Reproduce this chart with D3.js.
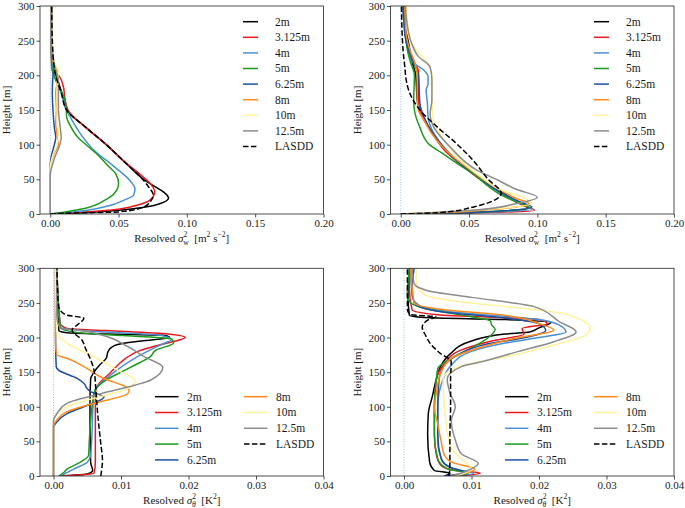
<!DOCTYPE html>
<html><head><meta charset="utf-8">
<script src="https://cdn.jsdelivr.net/npm/d3@7"></script>
<style>
body{margin:0;background:#fff}
</style>
</head><body>
<svg id="c" width="685" height="508"></svg>
<script>
// ---------------- data ----------------
const seriesNames = ["2m","3.125m","4m","5m","6.25m","8m","10m","12.5m","LASDD"];
const seriesColors = ["#000000","#e8191c","#4a8fd2","#1c9a1c","#1f4f9e","#ff8a1a","#fff29a","#8c8c8c","#000000"];
const heightTicks = [0,50,100,150,200,250,300];
const wTicks = [0.00,0.05,0.10,0.15,0.20];
const thetaTicks = [0.00,0.01,0.02,0.03,0.04];

// top-left: resolved w variance, [value, height]
const wA_2m = [[0,0],[0.037,3.4],[0.062,8],[0.079,14],[0.0866,23],[0.084,30],[0.077,39],[0.069,49],[0.055,74],[0.041,100],[0.026,125],[0.012,150],[0.0085,175],[0.0045,198],[0.0015,212],[0.0008,236],[0.001,300]];
const wA_3125 = [[0,0],[0.045,5.8],[0.064,13],[0.073,20],[0.0765,32],[0.074,42],[0.067,55],[0.054,76],[0.041,100],[0.026,125],[0.013,150],[0.0105,170],[0.0099,181],[0.0062,200],[0.0025,208],[0.001,215],[0.001,300]];
const wA_4 = [[0,0],[0.025,4.8],[0.045,13],[0.054,20],[0.061,27],[0.062,36],[0.058,49],[0.047,68],[0.032,92],[0.022,116],[0.016,135],[0.012,150],[0.008,175],[0.004,198],[0.0015,212],[0.001,300]];
const wA_5 = [[0,0],[0.012,3.4],[0.025,8],[0.04,20],[0.047,30],[0.050,44],[0.048,58],[0.043,68],[0.036,83],[0.028,97],[0.020,111],[0.015,126],[0.012,140],[0.0116,155],[0.010,169],[0.006,184],[0.003,198],[0.001,212],[0.001,300]];
const wA_625 = [[0,0],[0,70],[0.001,85],[0.003,100],[0.004,110],[0.003,125],[0.002,150],[0.0015,175],[0.002,200],[0.003,212],[0.002,228],[0.001,260],[0.001,300]];
const wA_8 = [[0,0],[0,65],[0.003,88],[0.006,100],[0.005,115],[0.004,130],[0.0045,150],[0.004,175],[0.006,200],[0.002,220],[0.001,300]];
const wA_10 = [[0,0],[0,65],[0.002,85],[0.005,100],[0.006,115],[0.005,135],[0.005,160],[0.005,190],[0.006,205],[0.002,225],[0.001,300]];
const wA_125 = [[0,0],[0,55],[0.003,80],[0.007,100],[0.008,110],[0.007,130],[0.006,150],[0.006,190],[0.003,215],[0.001,240],[0.001,300]];
const wA_lasdd = [[0,0],[0.01,1],[0.05,3],[0.069,10.6],[0.074,20],[0.0755,27],[0.072,39],[0.068,49],[0.055,74],[0.041,100],[0.026,125],[0.012,150],[0.008,175],[0.004,200],[0.002,230],[0.001,300]];

// top-right: resolved w variance
const wB_2m = [[0,0],[0.05,2],[0.093,8],[0.083,20],[0.069,39],[0.056,54],[0.045,70],[0.031,95],[0.022,120],[0.015,145],[0.012,165],[0.011,200],[0.008,222],[0.0054,250],[0.003,270],[0.0015,300]];
const wB_3125 = [[0,0],[0.06,2],[0.098,5],[0.09,12],[0.08,22],[0.07,35],[0.058,50],[0.045,70],[0.032,92],[0.024,115],[0.016,140],[0.013,160],[0.013,190],[0.013,205],[0.009,222],[0.005,240],[0.003,270],[0.002,300]];
const wB_4 = [[0,0],[0.06,2.5],[0.096,7],[0.088,15],[0.078,25],[0.066,40],[0.056,55],[0.042,75],[0.030,100],[0.022,125],[0.020,140],[0.0195,160],[0.0186,179],[0.020,188],[0.020,198],[0.0166,208],[0.008,220],[0.0054,236],[0.003,260],[0.0017,300]];
const wB_5 = [[0,0],[0.06,3],[0.094,9],[0.085,17],[0.074,27],[0.064,40],[0.055,55],[0.042,72],[0.030,88],[0.021,100],[0.014,125],[0.010,150],[0.0095,165],[0.010,200],[0.007,220],[0.005,235],[0.004,250],[0.002,300]];
const wB_625 = [[0,0],[0.06,3],[0.096,10],[0.088,17],[0.077,27],[0.066,40],[0.057,55],[0.044,72],[0.032,95],[0.024,115],[0.017,140],[0.014,160],[0.013,200],[0.009,220],[0.006,235],[0.003,260],[0.002,300]];
const wB_8 = [[0,0],[0.05,4],[0.094,15],[0.085,22],[0.075,32],[0.064,45],[0.055,58],[0.043,75],[0.030,98],[0.023,115],[0.017,135],[0.013,150],[0.012,170],[0.012,200],[0.010,220],[0.007,235],[0.004,260],[0.003,300]];
const wB_10 = [[0,0],[0.05,5],[0.096,15],[0.088,25],[0.073,35],[0.061,50],[0.045,75],[0.034,100],[0.026,125],[0.023,150],[0.023,170],[0.023,200],[0.0166,225],[0.010,240],[0.006,260],[0.004,300]];
const wB_125 = [[0,0],[0.05,5],[0.085,15],[0.100,24],[0.084,36],[0.071,49],[0.056,63],[0.036,97],[0.024,126],[0.0215,145],[0.0228,164],[0.0228,193],[0.0215,212],[0.013,227],[0.008,246],[0.004,284],[0.0035,300]];
const wB_lasdd = [[0,0],[0.029,2],[0.054,10.6],[0.0686,20],[0.0735,30],[0.064,50],[0.054,75],[0.040,103],[0.027,125],[0.014,150],[0.0067,174],[0.004,193],[0.003,212],[0.0017,236],[0.0005,300]];

// bottom-left: resolved theta variance
const tA_2m = [[0.001,0],[0.005,3],[0.0058,8],[0.0055,20],[0.0054,100],[0.0055,140],[0.006,150],[0.0068,160],[0.0078,170],[0.0081,180],[0.0085,185],[0.0095,190],[0.013,195],[0.0172,200],[0.0165,203],[0.008,205],[0.002,207],[0.0008,210],[0.0005,300]];
const tA_3125 = [[0.001,0],[0.006,4],[0.0062,20],[0.0062,120],[0.0065,130],[0.0085,150],[0.0095,160],[0.0107,170],[0.0125,180],[0.016,190],[0.0185,196],[0.0195,200],[0.017,205],[0.008,210],[0.002,213],[0.001,220],[0.0005,300]];
const tA_4 = [[0.001,0],[0.003,10],[0.005,20],[0.0055,30],[0.006,120],[0.009,150],[0.012,170],[0.016,190],[0.0175,197],[0.016,203],[0.004,210],[0.001,215],[0.0005,300]];
const tA_5 = [[0.0008,0],[0.0015,5],[0.002,10],[0.004,20],[0.0052,30],[0.0053,50],[0.006,120],[0.008,140],[0.010,150],[0.012,160],[0.0143,172],[0.0152,182],[0.0178,192],[0.0175,198],[0.012,202],[0.006,205],[0.002,210],[0.001,215],[0.0005,300]];
const tA_625 = [[0,0],[0,70],[0.0005,78],[0.002,90],[0.0045,100],[0.007,110],[0.0075,114],[0.0055,122],[0.005,126],[0.0045,134],[0.0035,141],[0.00075,153],[0.0004,158],[0.0003,200],[0.0003,300]];
const tA_8 = [[0,0],[0,72],[0.0005,81],[0.002,93],[0.006,105],[0.011,119],[0.0112,124],[0.007,143],[0.0045,158],[0.002,170],[0.0005,175],[0.0003,192],[0.0003,300]];
const tA_10 = [[0,0],[0,78],[0.0003,86],[0.002,100],[0.007,115],[0.0105,124],[0.012,134],[0.0122,137],[0.0095,153],[0.006,172],[0.002,192],[0.0005,208],[0.0003,300]];
const tA_125 = [[0,0],[0,80],[0.0005,90],[0.002,105],[0.007,119],[0.012,131],[0.0145,139],[0.0162,157],[0.0135,172],[0.011,187],[0.007,204],[0.0035,211],[0.001,213],[0.0005,230],[0.0005,300]];
const tA_lasdd = [[0.007,0],[0.00725,23],[0.007,47],[0.0065,95],[0.00625,129],[0.006,153],[0.0055,168],[0.00475,184],[0.00425,196],[0.00275,211],[0.0035,218],[0.0045,228],[0.00175,233],[0.00075,245],[0.0005,300]];

// bottom-right: resolved theta variance
const tB_2m = [[0.006,0],[0.0068,4],[0.0045,8],[0.0038,20],[0.0035,60],[0.0036,90],[0.0042,115],[0.0048,140],[0.0054,158],[0.0068,176],[0.0100,195],[0.0150,205],[0.0186,208],[0.0200,214],[0.0218,222],[0.0150,226],[0.0030,229],[0.0008,232],[0.0006,260],[0.0008,300]];
const tB_3125 = [[0.0075,0],[0.0113,4],[0.0070,9],[0.0055,15],[0.0048,30],[0.0045,60],[0.0045,100],[0.0048,140],[0.0058,160],[0.0080,180],[0.0130,195],[0.0178,205],[0.0175,213],[0.0212,220],[0.0200,226],[0.0050,233],[0.0012,240],[0.0008,270],[0.0010,300]];
const tB_4 = [[0.0070,0],[0.0103,4],[0.0075,10],[0.0058,20],[0.0050,50],[0.0050,100],[0.0058,140],[0.0070,160],[0.0100,180],[0.0150,192],[0.0200,200],[0.0240,208],[0.0230,218],[0.0200,226],[0.0080,236],[0.0025,245],[0.0012,260],[0.0010,300]];
const tB_5 = [[0.0065,0],[0.0095,4],[0.0065,10],[0.0050,25],[0.0045,60],[0.0045,100],[0.0048,140],[0.0050,155],[0.0070,170],[0.0100,185],[0.0125,200],[0.0135,212],[0.0130,218],[0.0128,224],[0.0100,230],[0.0040,240],[0.0010,250],[0.0005,260],[0.0008,300]];
const tB_625 = [[0.0060,0],[0.0090,5],[0.0070,12],[0.0055,25],[0.0050,60],[0.0050,100],[0.0052,140],[0.0060,160],[0.0080,175],[0.0120,190],[0.0180,200],[0.0210,210],[0.0200,220],[0.0150,228],[0.0050,238],[0.0015,250],[0.0012,270],[0.0015,300]];
const tB_8 = [[0.0070,0],[0.0105,10],[0.0070,20],[0.0060,30],[0.0055,50],[0.0050,75],[0.0045,100],[0.0048,120],[0.0055,150],[0.0070,170],[0.0110,185],[0.0160,198],[0.0222,211],[0.0200,220],[0.0150,232],[0.0060,240],[0.0015,250],[0.0010,300]];
const tB_10 = [[0.0075,0],[0.0100,10],[0.0085,25],[0.0070,40],[0.0065,60],[0.0060,100],[0.0058,140],[0.0065,150],[0.0100,163],[0.0150,172],[0.0210,186],[0.0270,204],[0.0276,213],[0.0235,235],[0.0180,242],[0.0080,252],[0.0030,262],[0.0018,280],[0.0018,300]];
const tB_125 = [[0.0072,0],[0.0095,8],[0.0110,18],[0.0085,32],[0.0076,52],[0.0070,80],[0.0076,100],[0.0068,120],[0.0064,140],[0.0085,158],[0.0115,165],[0.0170,180],[0.0222,194],[0.0255,208],[0.0230,223],[0.0192,245],[0.0100,258],[0.0034,268],[0.0015,278],[0.0012,300]];
const tB_lasdd = [[0.0067,0],[0.0068,20],[0.0068,60],[0.0069,100],[0.0069,140],[0.0070,165],[0.0054,177],[0.0040,190],[0.0032,203],[0.0027,215],[0.0035,225],[0.0047,230],[0.0010,233],[0.0005,240],[0.0005,300]];

const wA = [wA_2m,wA_3125,wA_4,wA_5,wA_625,wA_8,wA_10,wA_125,wA_lasdd];
const wB = [wB_2m,wB_3125,wB_4,wB_5,wB_625,wB_8,wB_10,wB_125,wB_lasdd];
const tA = [tA_2m,tA_3125,tA_4,tA_5,tA_625,tA_8,tA_10,tA_125,tA_lasdd];
const tB = [tB_2m,tB_3125,tB_4,tB_5,tB_625,tB_8,tB_10,tB_125,tB_lasdd];

// ---------------- drawing ----------------
const FONT = "'Liberation Serif', 'DejaVu Serif', 'Times New Roman', serif";
const svg = d3.select("#c").attr("font-family", FONT);
const FS = 11;

const panels = [
  {id:"p1", x0:40, x1:323.5, y0:6, y1:214, dom:[-0.0075,0.2], ticks:wTicks, fmt:".2f", series:wA, kind:"w", leg:"one", legX:243, legY:21.7},
  {id:"p2", x0:390.5, x1:674, y0:6, y1:214, dom:[-0.0075,0.2], ticks:wTicks, fmt:".2f", series:wB, kind:"w", leg:"one", legX:594, legY:21.7},
  {id:"p3", x0:40, x1:323.5, y0:268.3, y1:476, dom:[-0.002,0.04], ticks:thetaTicks, fmt:".2f", series:tA, kind:"t", leg:"two", legX:155, legY:396.7},
  {id:"p4", x0:390.5, x1:674, y0:268.3, y1:476, dom:[-0.002,0.04], ticks:thetaTicks, fmt:".2f", series:tB, kind:"t", leg:"two", legX:505, legY:396.7}
];

function txt(sel){ return sel.style("font-family", FONT).attr("fill","#1a1a1a"); }

panels.forEach(p => {
  const x = d3.scaleLinear().domain(p.dom).range([p.x0, p.x1]);
  const y = d3.scaleLinear().domain([0,300]).range([p.y1, p.y0]);
  const g = svg.append("g");

  g.append("clipPath").attr("id","clip"+p.id).append("rect")
    .attr("x",p.x0).attr("y",p.y0).attr("width",p.x1-p.x0).attr("height",p.y1-p.y0);

  g.append("line").attr("x1",x(0)).attr("x2",x(0)).attr("y1",y(0)).attr("y2",y(300))
    .attr("stroke","#7fb0de").attr("stroke-width",0.8).attr("stroke-dasharray","1,1.6");

  const line = d3.line().x(d=>x(d[0])).y(d=>y(d[1])).curve(d3.curveMonotoneY);
  const lg = g.append("g").attr("clip-path","url(#clip"+p.id+")");
  p.series.forEach((s,i) => {
    lg.append("path").attr("d", line(s)).attr("fill","none")
      .attr("stroke", seriesColors[i]).attr("stroke-width",1.5)
      .attr("stroke-linejoin","round")
      .attr("stroke-dasharray", i===8 ? "5.5,2.4" : null);
  });

  const ax = g.append("g").attr("transform",`translate(0,${p.y1})`)
    .call(d3.axisBottom(x).tickValues(p.ticks).tickFormat(d3.format(p.fmt)).tickSize(3.5).tickPadding(2));
  const ay = g.append("g").attr("transform",`translate(${p.x0},0)`)
    .call(d3.axisLeft(y).tickValues(heightTicks).tickFormat(d3.format("d")).tickSize(3.5).tickPadding(2));
  [ax,ay].forEach(a => {
    a.attr("font-family", FONT).attr("font-size", FS);
    a.select(".domain").remove();
    a.selectAll("line").attr("stroke","#222").attr("stroke-width",0.8);
    txt(a.selectAll("text")).style("font-size",FS+"px");
  });

  g.append("rect").attr("x",p.x0).attr("y",p.y0).attr("width",p.x1-p.x0).attr("height",p.y1-p.y0)
    .attr("fill","none").attr("stroke","#222").attr("stroke-width",0.8);

  txt(g.append("text").attr("transform",`translate(${p.x0-30},${(p.y0+p.y1)/2}) rotate(-90)`)
    .attr("text-anchor","middle").style("font-size",FS+"px").text("Height [m]"));

  const xl = txt(g.append("text").attr("x",(p.x0+p.x1)/2).attr("y",p.y1+28)
    .attr("text-anchor","middle").style("font-size",FS+"px"));
  const SS = 7.6;
  xl.append("tspan").text("Resolved ");
  xl.append("tspan").attr("font-style","italic").text("σ");
  xl.append("tspan").style("font-size",SS+"px").attr("dy",-4.6).text("2");
  if (p.kind==="w") {
    xl.append("tspan").style("font-size",SS+"px").attr("dx",-3.9).attr("dy",7.6).text("w");
    xl.append("tspan").attr("dy",-3).text("\u2002[m");
    xl.append("tspan").style("font-size",SS+"px").attr("dy",-4.6).text("2");
    xl.append("tspan").attr("dy",4.6).text(" s");
    xl.append("tspan").style("font-size",SS+"px").attr("dy",-4.6).text("−2");
    xl.append("tspan").attr("dy",4.6).text("]");
  } else {
    xl.append("tspan").style("font-size",SS+"px").attr("font-style","italic").attr("dx",-3.9).attr("dy",7.6).text("θ");
    xl.append("tspan").attr("dy",-3).text("\u2002[K");
    xl.append("tspan").style("font-size",SS+"px").attr("dy",-4.6).text("2");
    xl.append("tspan").attr("dy",4.6).text("]");
  }

  const rowH = p.leg==="one" ? 15.6 : 15.8;
  const hl = p.leg==="one" ? 15 : 23.5;
  const gap = p.leg==="one" ? 17 : 8.5;
  const colW = 89;
  seriesNames.forEach((n,i) => {
    let col = 0, row = i;
    if (p.leg==="two" && i>=5) { col = 1; row = i-5; }
    const lx = p.legX + col*colW, ly = p.legY + row*rowH;
    g.append("line").attr("x1",lx).attr("x2",lx+hl).attr("y1",ly).attr("y2",ly)
      .attr("stroke",seriesColors[i]).attr("stroke-width",1.5)
      .attr("stroke-dasharray", i===8 ? "5.5,2.4" : null);
    txt(g.append("text").attr("x",lx+hl+gap).attr("y",ly+3.8).style("font-size","11.5px").text(n));
  });
});
</script>
</body></html>
